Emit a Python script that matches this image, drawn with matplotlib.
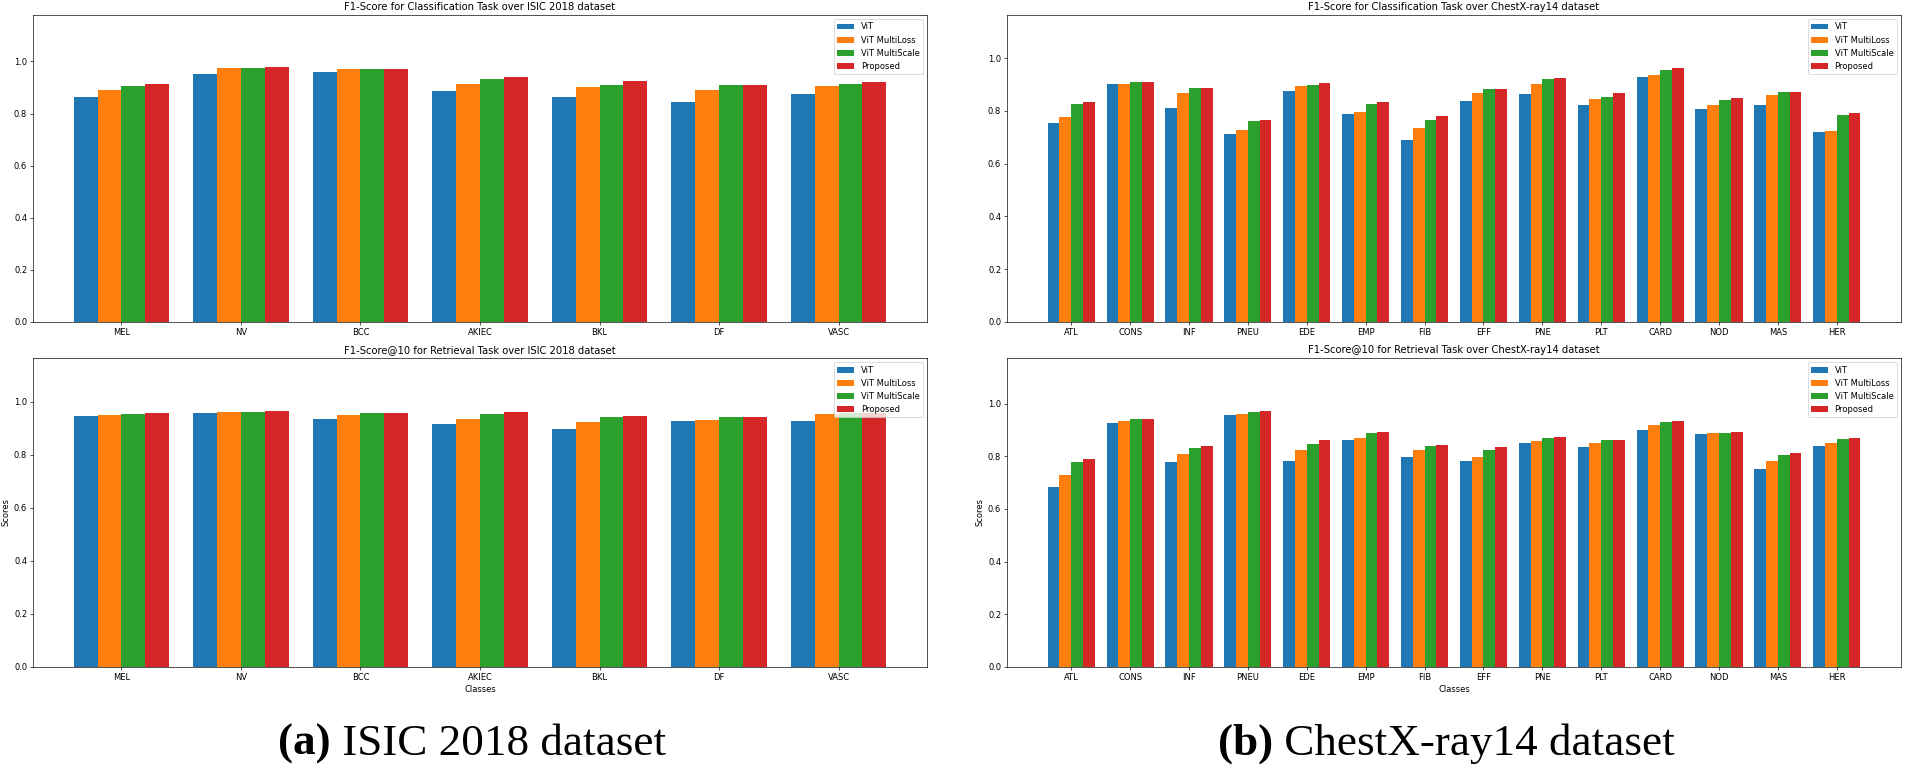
import matplotlib
matplotlib.use("Agg")
import matplotlib.pyplot as plt
import numpy as np

# ---------------- data ----------------
series_names = ["ViT", "ViT MultiLoss", "ViT MultiScale", "Proposed"]
colors = ["#1f77b4", "#ff7f0e", "#2ca02c", "#d62728"]

isic_classes = ["MEL", "NV", "BCC", "AKIEC", "BKL", "DF", "VASC"]
isic_cls_vit = [0.863, 0.953, 0.958, 0.885, 0.865, 0.846, 0.873]
isic_cls_multiloss = [0.890, 0.973, 0.969, 0.915, 0.900, 0.892, 0.905]
isic_cls_multiscale = [0.906, 0.973, 0.969, 0.932, 0.910, 0.908, 0.915]
isic_cls_proposed = [0.912, 0.978, 0.969, 0.941, 0.924, 0.908, 0.921]

isic_ret_vit = [0.945, 0.956, 0.936, 0.914, 0.897, 0.927, 0.926]
isic_ret_multiloss = [0.948, 0.961, 0.951, 0.935, 0.922, 0.930, 0.952]
isic_ret_multiscale = [0.953, 0.960, 0.956, 0.953, 0.941, 0.941, 0.955]
isic_ret_proposed = [0.956, 0.964, 0.956, 0.961, 0.946, 0.942, 0.958]

chest_classes = ["ATL", "CONS", "INF", "PNEU", "EDE", "EMP", "FIB", "EFF",
                 "PNE", "PLT", "CARD", "NOD", "MAS", "HER"]
chest_cls_vit = [0.754, 0.903, 0.809, 0.714, 0.874, 0.788, 0.690, 0.837,
                 0.865, 0.822, 0.927, 0.806, 0.822, 0.720]
chest_cls_multiloss = [0.777, 0.903, 0.866, 0.729, 0.893, 0.794, 0.735, 0.866,
                       0.903, 0.846, 0.937, 0.823, 0.859, 0.725]
chest_cls_multiscale = [0.825, 0.909, 0.886, 0.762, 0.899, 0.826, 0.764, 0.883,
                        0.919, 0.854, 0.953, 0.841, 0.870, 0.785]
chest_cls_proposed = [0.832, 0.909, 0.885, 0.765, 0.905, 0.835, 0.780, 0.883,
                      0.924, 0.867, 0.963, 0.847, 0.870, 0.790]

chest_ret_vit = [0.683, 0.925, 0.778, 0.957, 0.783, 0.861, 0.796, 0.783,
                 0.850, 0.834, 0.898, 0.884, 0.753, 0.838]
chest_ret_multiloss = [0.730, 0.932, 0.809, 0.962, 0.822, 0.869, 0.822, 0.796,
                       0.857, 0.852, 0.918, 0.887, 0.781, 0.852]
chest_ret_multiscale = [0.778, 0.940, 0.833, 0.968, 0.847, 0.888, 0.838, 0.825,
                        0.869, 0.860, 0.930, 0.888, 0.805, 0.866]
chest_ret_proposed = [0.789, 0.943, 0.838, 0.973, 0.860, 0.892, 0.842, 0.836,
                      0.873, 0.861, 0.934, 0.892, 0.814, 0.871]

titles = {
    "isic_cls": "F1-Score for Classification Task over ISIC 2018 dataset",
    "isic_ret": "F1-Score@10 for Retrieval Task over ISIC 2018 dataset",
    "chest_cls": "F1-Score for Classification Task over ChestX-ray14 dataset",
    "chest_ret": "F1-Score@10 for Retrieval Task over ChestX-ray14 dataset",
}

# ---------------- style ----------------
k = 0.6
plt.rcParams.update({
    "font.family": ["DejaVu Sans"],
    "font.size": 10 * k,
    "axes.linewidth": 0.8 * k,
    "xtick.major.width": 0.8 * k,
    "ytick.major.width": 0.8 * k,
    "xtick.major.size": 3.5 * k,
    "ytick.major.size": 3.5 * k,
    "xtick.major.pad": 3.5 * k,
    "ytick.major.pad": 3.5 * k,
    "axes.titlesize": 12 * k,
    "axes.titlepad": 6 * k,
    "axes.labelpad": 4 * k,
    "legend.fontsize": 10 * k,
    "patch.linewidth": 1.0 * k,
})

W, H = 1905, 768
fig = plt.figure(figsize=(W / 100, H / 100), dpi=100)


def draw(rect, classes, series, title, bottom_row):
    ax = fig.add_axes(rect)
    x = np.arange(len(classes))
    width = 0.2
    for i, (vals, name, c) in enumerate(zip(series, series_names, colors)):
        ax.bar(x + (i - 1.5) * width, vals, width, color=c, label=name)
    ax.set_xticks(x)
    ax.set_xticklabels(classes)
    ymax = max(max(s) for s in series) + 0.2
    ax.set_ylim(0, ymax)
    ax.set_title(title)
    ax.legend(loc="upper right")
    if bottom_row:
        ax.set_xlabel("Classes")
        ax.set_ylabel("Scores")
    return ax


def px_rect(x0, y0, x1, y1):
    return [x0 / W, 1 - y1 / H, (x1 - x0) / W, (y1 - y0) / H]


draw(px_rect(33, 15, 927, 322), isic_classes,
     [isic_cls_vit, isic_cls_multiloss, isic_cls_multiscale, isic_cls_proposed],
     titles["isic_cls"], False)
draw(px_rect(33, 358, 927, 667), isic_classes,
     [isic_ret_vit, isic_ret_multiloss, isic_ret_multiscale, isic_ret_proposed],
     titles["isic_ret"], True)
draw(px_rect(1007, 15, 1901, 322), chest_classes,
     [chest_cls_vit, chest_cls_multiloss, chest_cls_multiscale, chest_cls_proposed],
     titles["chest_cls"], False)
draw(px_rect(1007, 358, 1901, 667), chest_classes,
     [chest_ret_vit, chest_ret_multiloss, chest_ret_multiscale, chest_ret_proposed],
     titles["chest_ret"], True)

# ---------------- captions ----------------
renderer = fig.canvas.get_renderer()
cap_fs = 32.5
cap_y = 1 - 755 / H


def caption(cx_px, label, rest):
    t1 = fig.text(0, cap_y, label, fontsize=cap_fs, fontweight="bold",
                  family=["Liberation Serif"], va="baseline", ha="left")
    t2 = fig.text(0, cap_y, rest, fontsize=cap_fs,
                  family=["Liberation Serif"], va="baseline", ha="left")
    w1 = t1.get_window_extent(renderer).width
    w2 = t2.get_window_extent(renderer).width
    start = cx_px - (w1 + w2) / 2
    t1.set_x(start / W)
    t2.set_x((start + w1) / W)


caption(472, "(a)", " ISIC 2018 dataset")
caption(1446, "(b)", " ChestX-ray14 dataset")

fig.savefig("out.png", dpi=100)
